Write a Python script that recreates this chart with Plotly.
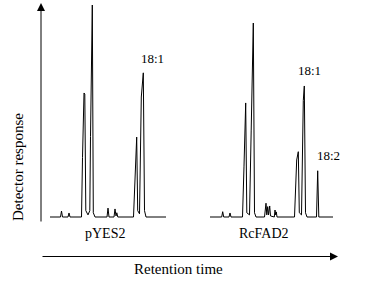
import plotly.graph_objects as go

W, H = 368, 296

# Chromatogram of pYES2 (retention time in arbitrary units, detector response in %)
pyes2_time = [50, 60.5, 61.5, 62.5, 68, 69, 70,
              81.5, 82.5, 84, 84.8, 85.8, 88, 89.8, 90.5, 91.3, 92.3, 93.3, 95,
              107, 108, 109, 114, 115, 116, 116.8, 117.8,
              133.5, 135, 136.7, 137.7, 139.5, 141.3, 143.3, 144.5, 146, 166]
pyes2_resp = [0, 0, 2.8, 0, 0, 1.9, 0,
              0, 28, 58.5, 58, 3, 1, 3, 38, 74, 100, 2, 0,
              0, 4.2, 0, 0, 3.8, 0.5, 2, 0,
              0, 22, 37.7, 3, 1.5, 56.6, 68, 3, 0, 0]

# Chromatogram of RcFAD2
rcfad2_time = [210, 221.7, 222.7, 223.7, 229, 230, 231,
               242.5, 244, 245.2, 245.7, 246.8, 249.5, 251.2, 252.3, 253.3, 254.5, 256,
               264.5, 265.2, 266, 266.8, 267.7, 268.5, 269.7, 270.5, 274.3, 275, 275.7, 276.3, 277,
               294.5, 296.7, 298.3, 299.3, 301.5, 303.3, 304.3, 305.5, 307,
               316.5, 317.7, 318.8, 333]
rcfad2_resp = [0, 0, 2.5, 0, 0, 1.9, 0,
               0, 24, 52, 53.8, 2, 1, 41, 68, 91.5, 2, 0,
               0, 3, 6.5, 1, 4.9, 1, 5.2, 0.5, 0, 3.3, 1, 2.4, 0,
               0, 26.9, 30.8, 2, 1, 55, 61.8, 2, 0,
               0, 21.8, 0, 0]

# Peak labels
peak_labels = ["18:1", "18:1", "18:2"]
peak_label_time = [152, 309, 328]
peak_label_resp = [75, 69, 29]

sample_names = ["pYES2", "RcFAD2"]
x_title = "Retention time"
y_title = "Detector response"

FONT = "'Liberation Serif', 'Times New Roman', 'DejaVu Serif', serif"

fig = go.Figure()
for t, r in [(pyes2_time, pyes2_resp), (rcfad2_time, rcfad2_resp)]:
    fig.add_trace(go.Scatter(x=t, y=r, mode="lines",
                             line=dict(color="black", width=1),
                             hoverinfo="skip", showlegend=False))

for txt, tx, ty in zip(peak_labels, peak_label_time, peak_label_resp):
    fig.add_annotation(x=tx, y=ty, xref="x", yref="y", text=txt, showarrow=False,
                       xanchor="center", yanchor="middle",
                       font=dict(family=FONT, size=13, color="black"))

def px(xp):
    return xp / W

def py(yp):
    return 1 - yp / H

# sample names
for name, xc in zip(sample_names, [105, 264]):
    fig.add_annotation(x=px(xc), y=py(233), xref="paper", yref="paper", text=name,
                       showarrow=False, xanchor="center", yanchor="middle",
                       font=dict(family=FONT, size=14, color="black"))

fig.add_annotation(x=px(178), y=py(269), xref="paper", yref="paper", text=x_title,
                   showarrow=False, xanchor="center", yanchor="middle",
                   font=dict(family=FONT, size=15, color="black"))
fig.add_annotation(x=px(18), y=py(167), xref="paper", yref="paper", text=y_title,
                   textangle=-90, showarrow=False, xanchor="center", yanchor="middle",
                   font=dict(family=FONT, size=15, color="black"))

# axis arrows
fig.add_annotation(x=px(41), y=py(3), xref="paper", yref="paper", text="",
                   showarrow=True, ax=0, ay=220, arrowhead=2, arrowsize=1.6,
                   arrowwidth=1, arrowcolor="black")
fig.add_annotation(x=px(338), y=py(256.5), xref="paper", yref="paper", text="",
                   showarrow=True, ax=-297, ay=0, arrowhead=2, arrowsize=1.6,
                   arrowwidth=1, arrowcolor="black")

ymin, ymax = -79 / 2.12, 217 / 2.12
fig.update_layout(
    width=W, height=H,
    margin=dict(l=0, r=0, t=0, b=0),
    paper_bgcolor="white", plot_bgcolor="white",
    font=dict(family=FONT, color="black"),
    xaxis=dict(range=[0, W], visible=False, fixedrange=True),
    yaxis=dict(range=[ymin, ymax], visible=False, fixedrange=True),
    showlegend=False,
)

fig.write_html("out.html", config={"displayModeBar": False},
               post_script="document.body.style.margin='0';")
